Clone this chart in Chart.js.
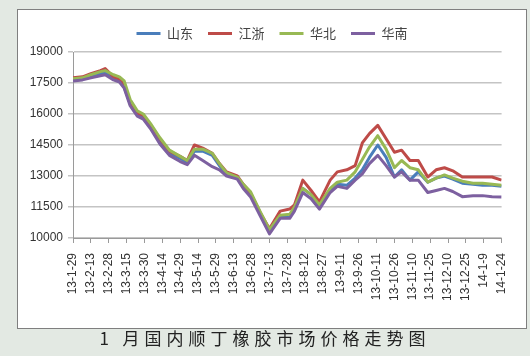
<!DOCTYPE html>
<html>
<head>
<meta charset="utf-8">
<script src="https://cdn.jsdelivr.net/npm/chart.js@4/dist/chart.umd.min.js"></script>
<style>
  html, body { margin: 0; padding: 0; }
  body {
    width: 530px; height: 356px; overflow: hidden; position: relative;
    background: #e3e9e3;
    font-family: "Liberation Sans", Arial, sans-serif;
  }
  #frame {
    position: absolute; left: 17px; top: 9px;
    width: 508px; height: 318px;
    background: #fff; border: 1px solid #7f7f7f;
  }
  #frame canvas { display: block; }
  #caption {
    position: absolute; left: 0; top: 328px; width: 530px;
    text-align: center; line-height: 20px;
    font-family: "Noto Sans CJK SC", sans-serif; font-size: 17px;
    letter-spacing: 5px; color: #222;
  }
</style>
</head>
<body>
<div id="frame"><canvas id="chart" width="508" height="318"></canvas></div>
<div id="caption">1 月国内顺丁橡胶市场价格走势图</div>
<script>
// Axis labels, one every 15 days starting 2013-01-29
const tickLabels = [
  '13-1-29', '13-2-13', '13-2-28', '13-3-15', '13-3-30', '13-4-14', '13-4-29',
  '13-5-14', '13-5-29', '13-6-13', '13-6-28', '13-7-13', '13-7-28', '13-8-12',
  '13-8-27', '13-9-11', '13-9-26', '13-10-11', '13-10-26', '13-11-10',
  '13-11-25', '13-12-10', '13-12-25', '14-1-9', '14-1-24'
];

// Sample dates, in days after 2013-01-29
const sampleDays = [
  0, 8, 15, 23, 27, 34, 39, 43, 48, 54, 59, 65, 73, 81, 90, 96, 102, 109,
  117, 123, 129, 138, 143, 149, 157, 165, 174, 182, 186, 193, 200, 207, 216,
  222, 230, 237, 243, 249, 256, 263, 270, 276, 283, 290, 298, 305, 312, 319,
  327, 336, 344, 352, 360
];

// Prices (yuan/ton) by region
const shandong = [
  17650, 17700, 17800, 17950, 18000, 17750, 17650, 17300, 16500, 16000, 15900,
  15400, 14700, 14100, 13850, 13650, 14200, 14200, 14000, 13500, 13100, 12950,
  12500, 12100, 11200, 10300, 11000, 11000, 11400, 12400, 12100, 11500, 12300,
  12600, 12550, 12900, 13300, 13900, 14500, 13900, 12950, 13300, 12800, 13200,
  12700, 12900, 13000, 12850, 12650, 12600, 12550, 12550, 12500
];
const jiangzhe = [
  17750, 17800, 17950, 18100, 18200, 17800, 17700, 17400, 16550, 16050, 15950,
  15450, 14800, 14200, 13950, 13750, 14500, 14350, 14100, 13600, 13200, 13000,
  12600, 12200, 11250, 10450, 11300, 11400, 11600, 12800, 12300, 11750, 12800,
  13200, 13300, 13500, 14600, 15050, 15450, 14800, 14150, 14250, 13750, 13750,
  12950, 13300, 13400, 13250, 12950, 12950, 12950, 12950, 12800
];
const huabei = [
  17700, 17750, 17900, 18050, 18100, 17900, 17800, 17600, 16700, 16150, 16000,
  15550, 14850, 14250, 13950, 13750, 14300, 14300, 14100, 13600, 13150, 12950,
  12600, 12250, 11300, 10400, 11100, 11150, 11500, 12400, 12100, 11600, 12400,
  12700, 12800, 13200, 13800, 14400, 14950, 14300, 13400, 13750, 13400, 13300,
  12700, 12900, 13050, 12900, 12750, 12650, 12650, 12600, 12550
];
const huanan = [
  17600, 17650, 17750, 17850, 17900, 17650, 17550, 17250, 16400, 15900, 15750,
  15300, 14550, 14000, 13700, 13550, 14000, 13750, 13450, 13300, 13000, 12850,
  12400, 12000, 11100, 10200, 10950, 10950, 11300, 12200, 11900, 11400, 12200,
  12500, 12400, 12800, 13100, 13600, 14000, 13500, 12950, 13200, 12800, 12800,
  12200, 12300, 12400, 12250, 12000, 12050, 12050, 12000, 11980
];

const seriesNames = ['山东', '江浙', '华北', '华南'];
const seriesValues = [shandong, jiangzhe, huabei, huanan];
const seriesColors = ['#4a7ebb', '#be4b48', '#98b954', '#7d60a0'];

const datasets = seriesValues.map((vals, i) => ({
  label: seriesNames[i],
  data: sampleDays.map((d, j) => ({ x: d, y: vals[j] })),
  borderColor: seriesColors[i],
  backgroundColor: seriesColors[i],
  borderWidth: 3,
  borderJoinStyle: 'round',
  pointRadius: 0,
  pointStyle: 'line',
  tension: 0,
  // later series are painted over earlier ones
  order: seriesValues.length - 1 - i
}));

// Give the legend a fixed band height above the plot
const legendBand = {
  id: 'legendBand',
  afterInit(chart) {
    const legend = chart.legend;
    if (!legend) return;
    const fit = legend.fit;
    legend.fit = function () { fit.call(this); this.height = 40; };
  }
};

const axisFont = { family: '"Liberation Sans", Arial, sans-serif', size: 12 };

new Chart(document.getElementById('chart'), {
  type: 'line',
  data: { datasets },
  plugins: [legendBand],
  options: {
    responsive: false,
    animation: false,
    devicePixelRatio: 1,
    layout: { padding: { top: 2, left: 0, right: 0, bottom: 0 } },
    plugins: {
      tooltip: { enabled: false },
      legend: {
        position: 'top',
        labels: {
          usePointStyle: true,
          pointStyle: 'line',
          pointStyleWidth: 24,
          boxWidth: 24,
          padding: 15,
          color: '#444',
          font: { family: '"Noto Sans CJK SC", sans-serif', size: 13 },
          sort: (a, b) => a.datasetIndex - b.datasetIndex
        }
      }
    },
    scales: {
      x: {
        type: 'linear',
        position: 'bottom',
        min: 0,
        max: 360,
        afterFit: (s) => { s.height = 90; },
        grid: { drawOnChartArea: false, drawTicks: true, tickLength: 5, color: '#9a9a9a' },
        border: { color: '#9a9a9a', width: 1 },
        ticks: {
          stepSize: 15,
          autoSkip: false,
          minRotation: 90,
          maxRotation: 90,
          padding: 10,
          color: '#333',
          font: axisFont,
          callback: (v) => tickLabels[Math.round(v / 15)] ?? ''
        }
      },
      y: {
        min: 10000,
        max: 19000,
        afterFit: (s) => { s.width = 55; },
        grid: { color: '#c4c4c4', lineWidth: 1.5, drawTicks: true, tickLength: 5 },
        border: { color: '#9a9a9a', width: 1 },
        ticks: {
          stepSize: 1500,
          padding: 5,
          color: '#333',
          font: axisFont,
          callback: (v) => String(v)
        }
      },
      spacer: {
        type: 'linear',
        position: 'right',
        afterFit: (s) => { s.width = 24; },
        grid: { display: false },
        border: { display: false },
        ticks: { display: false }
      }
    }
  }
});
</script>
</body>
</html>
